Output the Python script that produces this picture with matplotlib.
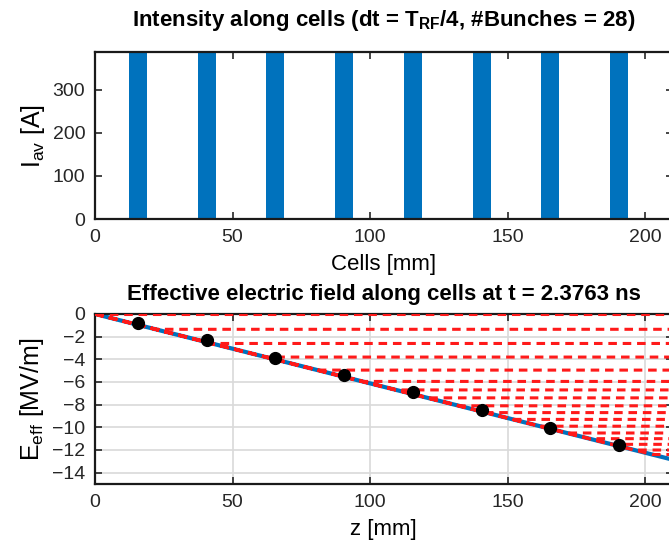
import numpy as np
import matplotlib.pyplot as plt

plt.rcParams['font.family'] = ['Liberation Sans', 'DejaVu Sans']
plt.rcParams['mathtext.fontset'] = 'custom'
plt.rcParams['mathtext.rm'] = 'Liberation Sans'
plt.rcParams['mathtext.bf'] = 'Liberation Sans:bold'

# bunch intensity along the cells
bunch_z = [15.6, 40.6, 65.6, 90.6, 115.6, 140.6, 165.6, 190.6]
bunch_I = [400, 400, 400, 400, 400, 400, 400, 400]
bunch_w = 6.5

# effective field
line_z = [0, 210]
line_E = [0, -12.85]
dots_E = [-0.8, -2.3, -3.9, -5.4, -6.9, -8.5, -10.1, -11.6]
levels = [0, -1.35, -2.6, -3.8, -4.95, -5.95, -6.7, -7.4, -8.1, -8.7,
          -9.3, -9.9, -10.5, -11.0, -11.5, -12.0, -12.4]

blue = '#0072BD'

fig = plt.figure(figsize=(6.69, 5.42), dpi=100)
W, H = 669, 542
px = 2.75  # pixels per mm

def style(ax):
    ax.tick_params(direction='in', length=5, width=1.2, labelsize=14,
                   top=True, right=True, pad=7, colors='#262626')
    for s in ax.spines.values():
        s.set_linewidth(1.6)
        s.set_color('#1a1a1a')

# ---- top: intensity
ax1 = fig.add_axes([95 / W, 1 - 219 / H, 210 * px / W, 167 / H])
ax1.bar(bunch_z, bunch_I, width=bunch_w, color=blue, edgecolor='none')
ax1.set_xlim(0, 210)
ax1.set_ylim(0, 388)
ax1.set_xticks([0, 50, 100, 150, 200])
ax1.set_yticks([0, 100, 200, 300])
style(ax1)
ax1.set_xlabel('Cells [mm]', fontsize=16, labelpad=6)
ax1.set_ylabel(r'I$_{\mathregular{av}}$ [A]', fontsize=18, labelpad=4)
ax1.set_title(r'Intensity along cells (dt = T$_{\mathbf{RF}}$/4, #Bunches = 28)',
              fontsize=16, fontweight='bold', pad=19)

# ---- bottom: effective field
ax2 = fig.add_axes([95 / W, 1 - 484 / H, 210 * px / W, 170 / H])
ax2.grid(True, color='#d9d9d9', linewidth=1.2)
ax2.set_axisbelow(True)
ax2.plot(line_z, line_E, color=blue, linewidth=3, zorder=2)
for L in levels:
    zb = np.interp(L, line_E[::-1], line_z[::-1])
    ax2.plot([0, zb, 210], [0, L, L], color='#ff1a1a', linewidth=2.2,
             linestyle=(0, (2.8, 1.9)), zorder=3, clip_on=True)
ax2.plot(bunch_z, dots_E, 'o', color='black', markersize=8.5, zorder=4)
ax2.set_xlim(0, 210)
ax2.set_ylim(-15, 0)
ax2.set_xticks([0, 50, 100, 150, 200])
ax2.set_yticks(np.arange(-14, 1, 2))
style(ax2)
ax2.set_xlabel('z [mm]', fontsize=16, labelpad=6)
ax2.set_ylabel(r'E$_{\mathregular{eff}}$ [MV/m]', fontsize=18, labelpad=4)
ax2.set_title('Effective electric field along cells at t = 2.3763 ns',
              fontsize=16, fontweight='bold', pad=10)

fig.savefig('out.png', dpi=100)
